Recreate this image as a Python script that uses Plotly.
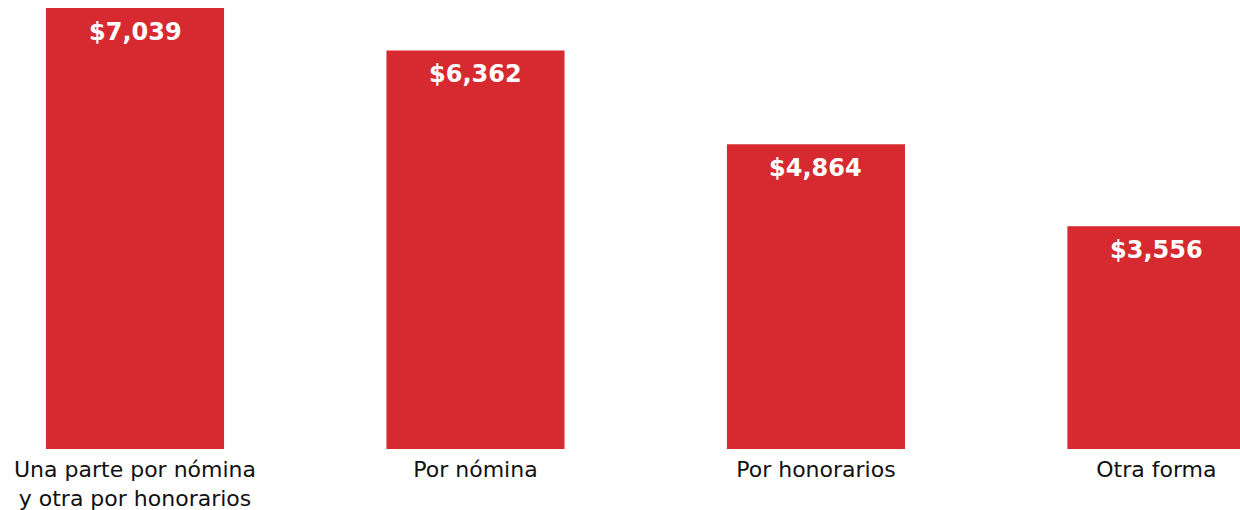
import plotly.graph_objects as go

# datos
categorias = ["Una parte por nómina<br>y otra por honorarios", "Por nómina",
              "Por honorarios", "Otra forma"]
valores = [7039, 6362, 4864, 3556]
posiciones = [0, 1, 2, 3]

rojo = "#d62a30"

fig = go.Figure(go.Bar(
    x=posiciones,
    y=valores,
    width=0.523,
    marker=dict(color=rojo, line=dict(width=0)),
    hoverinfo="skip",
))

# etiquetas de valor dentro de la barra, un poco separadas del borde
for x, v in zip(posiciones, valores):
    fig.add_annotation(
        x=x, y=v,
        text="$" + format(v, ","),
        showarrow=False,
        yanchor="top",
        yshift=-8,
        font=dict(family="DejaVu Sans", size=24, color="white", weight="bold"),
    )

fig.update_xaxes(
    range=[-0.3965, 3.2455],
    tickvals=posiciones,
    ticktext=categorias,
    showgrid=False,
    zeroline=False,
    showline=False,
    ticks="",
    ticklabelstandoff=5,
    tickfont=dict(family="DejaVu Sans", size=22, color="#111111"),
)
fig.update_yaxes(
    range=[0, 7167],
    visible=False,
)

fig.update_layout(
    width=1240,
    height=510,
    margin=dict(l=0, r=0, t=0, b=61, autoexpand=False),
    plot_bgcolor="white",
    paper_bgcolor="white",
    showlegend=False,
)

# quitar el margen del body para que la figura empiece en (0, 0)
fig.write_html("out.html",
               config={"displayModeBar": False},
               post_script="document.body.style.margin='0';document.body.style.overflow='hidden';")
